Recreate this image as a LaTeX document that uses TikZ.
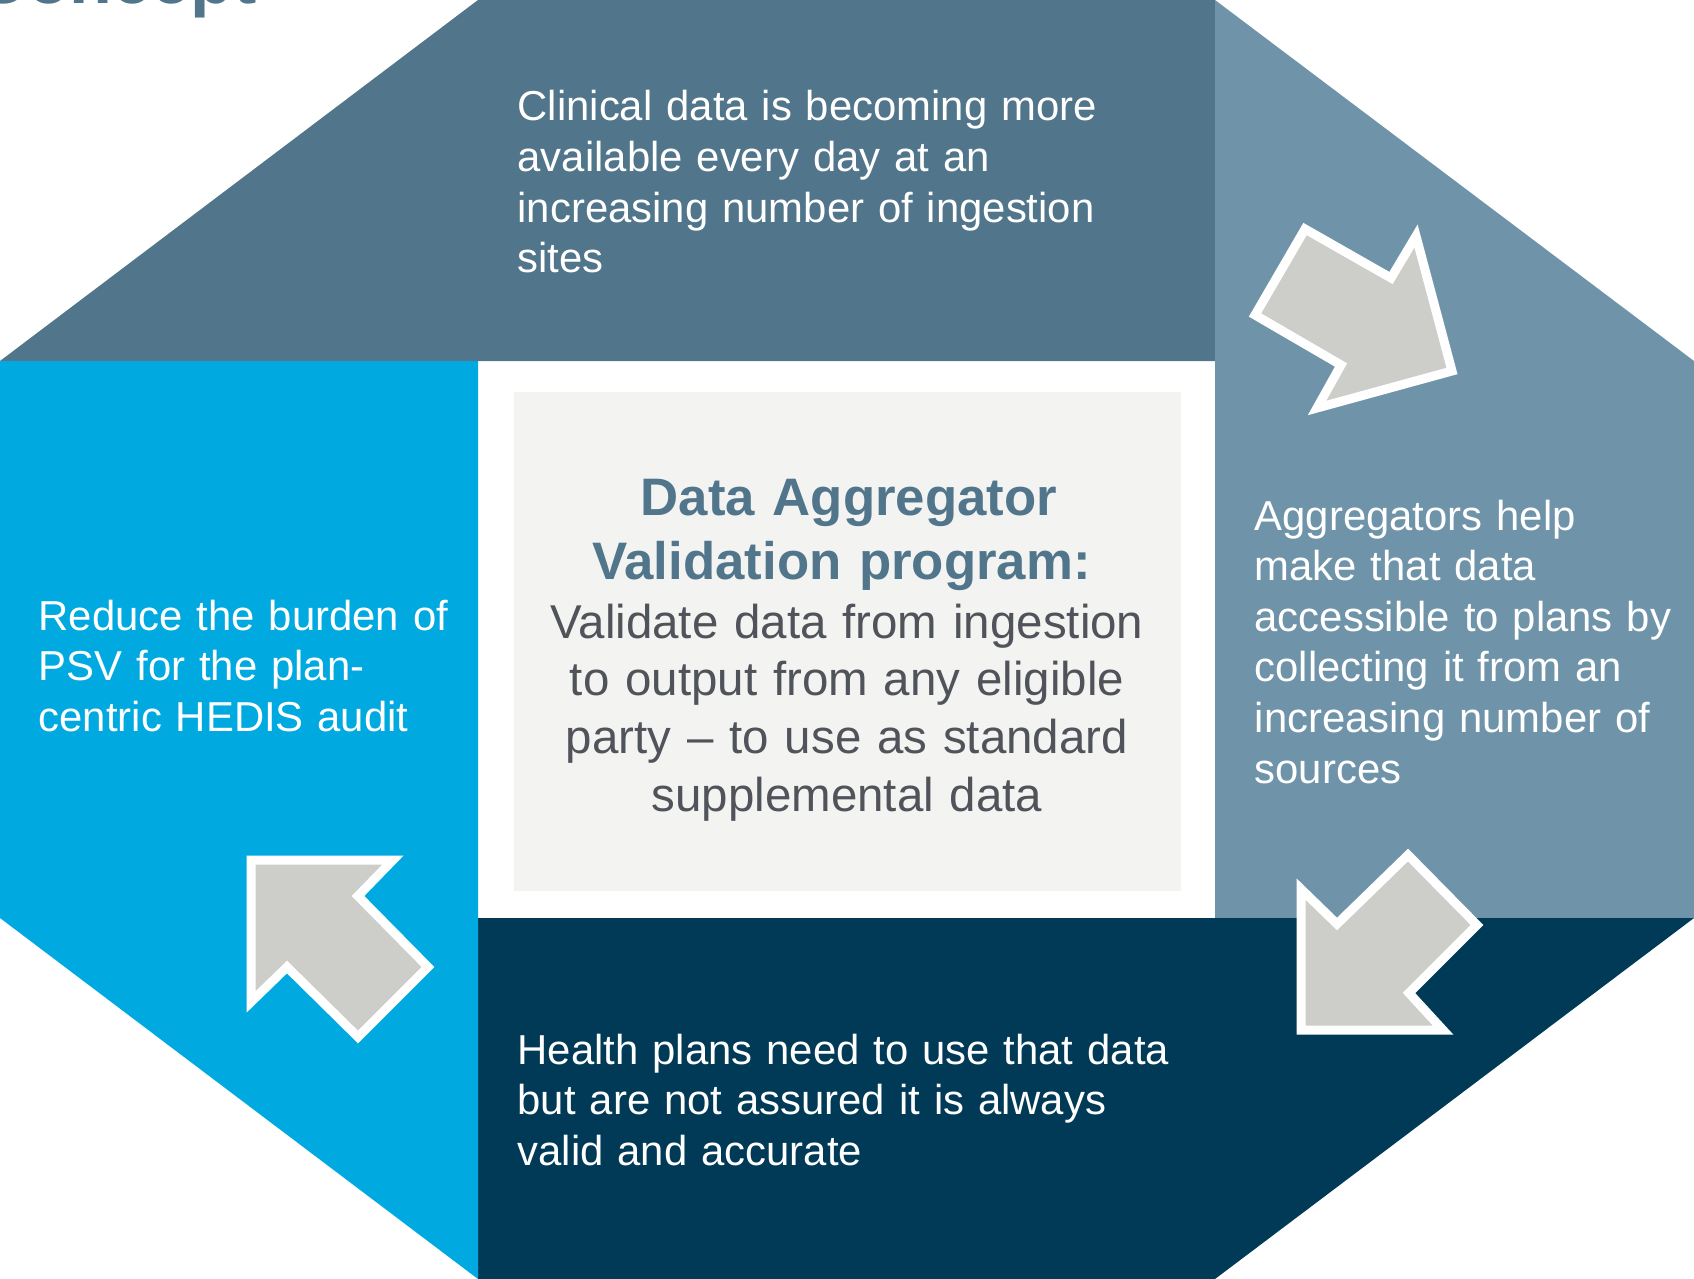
\documentclass[tikz,border=0pt]{standalone}
\usepackage{fontspec}
\setmainfont{Liberation Sans}
\definecolor{slate}{RGB}{81,117,138}
\definecolor{steel}{RGB}{111,148,170}
\definecolor{navy}{RGB}{0,58,87}
\definecolor{cyan}{RGB}{0,170,224}
\definecolor{arrowgrey}{RGB}{205,206,201}
\definecolor{boxgrey}{RGB}{243,243,242}
\definecolor{bodygrey}{RGB}{80,84,90}

\begin{document}
\begin{tikzpicture}[x=0.01cm, y=-0.01cm,
  paneltext/.style={anchor=base west, inner sep=0, text=white, align=left,
    text width=7cm, font=\fontsize{11.9}{14.4}\selectfont},
  arrowshape/.style={fill=arrowgrey, draw=white, line width=0.09cm, line join=miter}]
  \useasboundingbox (0,0) rectangle (1694,1279);
  \begin{scope}
    \clip (0,0) rectangle (1694,1279);
    \node[anchor=base west, inner sep=0, text=slate, font=\fontsize{19.9}{22}\selectfont\bfseries] (heading) at (-24,4) {Concept};
  \end{scope}
  \fill[slate] (0,361) -- (478,0) -- (1215,0) -- (1215,361) -- cycle;
  \fill[steel] (1215,0) -- (1694,361) -- (1694,918) -- (1215,918) -- cycle;
  \fill[navy] (478,918) -- (1694,918) -- (1215,1279) -- (478,1279) -- cycle;
  \fill[cyan] (0,361) -- (478,361) -- (478,1279) -- (0,918) -- cycle;
  \fill[boxgrey] (514,392) rectangle (1181,891);
  \node[paneltext] (clinical) at (517,121) {Clinical data is becoming more\\ available every day at an\\ increasing number of ingestion\\ sites};
  \node[paneltext] (aggregators) at (1254,530) {Aggregators help\\ make that data\\ accessible to plans by\\ collecting it from an\\ increasing number of\\ sources};
  \node[paneltext] (healthplans) at (517,1064) {Health plans need to use that data\\ but are not assured it is always\\ valid and accurate};
  \node[paneltext] (reduce) at (38,630) {Reduce the burden of\\ PSV for the plan-\\ centric HEDIS audit};
  \node[anchor=base, inner sep=0, text=slate, align=center, text width=6.4cm,
    font=\fontsize{15}{18.2}\selectfont\bfseries] (title) at (849,515) {Data Aggregator\\ Validation program:\hspace*{0.15cm}};
  \node[anchor=base, inner sep=0, text=bodygrey, align=center, text width=6.4cm,
    font=\fontsize{13.5}{16.4}\selectfont] (program) at (847,638) {Validate data from ingestion\\ to output from any eligible\\ party -- to use as standard\\ supplemental data};
  \draw[arrowshape] (1305,229) -- (1391,278) -- (1416,236) -- (1452,371) -- (1317,408) -- (1341,365) -- (1255,315) -- cycle;
  \draw[arrowshape] (1301,889) -- (1337,924) -- (1408,855) -- (1477,925) -- (1409,993) -- (1443,1030) -- (1301,1030) -- cycle;
  \draw[arrowshape] (251,860) -- (393,860) -- (358,896) -- (428,967) -- (358,1037) -- (287,967) -- (251,1002) -- cycle;
\end{tikzpicture}
\end{document}
